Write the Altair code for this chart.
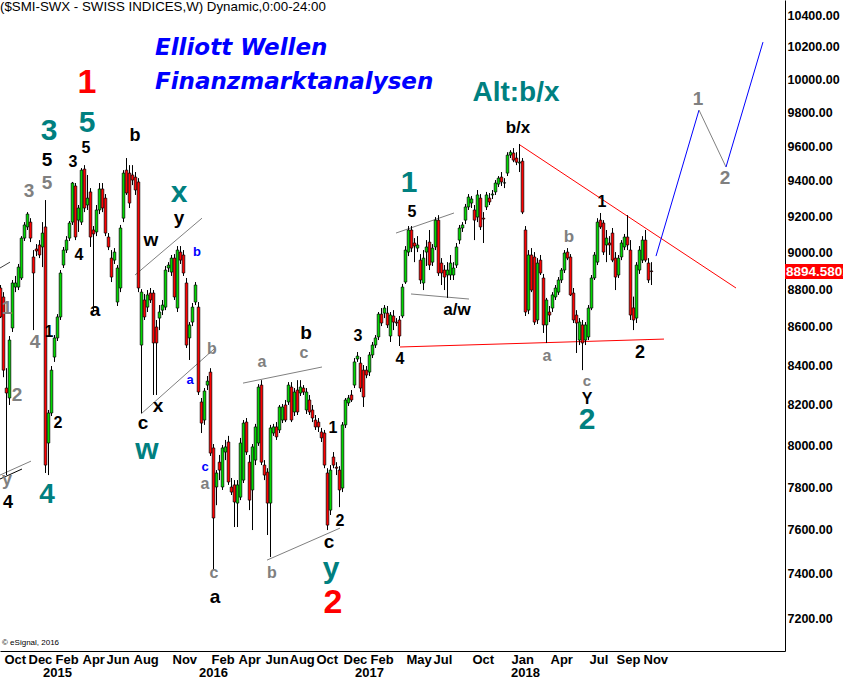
import altair as alt
import numpy as np
import pandas as pd

# Weekly SMI candles, one bar per week starting with the week of FIRST_WEEK
FIRST_WEEK = "2014-09-29"

OPEN = [8806, 8758, 8285, 8235, 8594, 8811, 8811, 8860, 9078, 9140,
        9167, 8974, 9018, 9040, 9029, 9140, 8012, 8160, 8443, 8542,
        8652, 8930, 9012, 9078, 9167, 9371, 9178, 9167, 9468, 9263,
        9337, 9123, 9112, 9235, 9354, 9302, 9084, 8968, 8957, 8731,
        8806, 9189, 9462, 9445, 9434, 9422, 9394, 8505, 8742, 8704,
        8779, 8779, 8599, 8646, 8688, 8704, 8914, 8892, 8968, 8699,
        9001, 8985, 8833, 8542, 8625, 8731, 8704, 8215, 8125, 8300,
        8366, 7988, 7800, 7919, 7800, 7968, 8017, 7800, 7810, 7724,
        7752, 7833, 8115, 7919, 7786, 7929, 8012, 8300, 7905, 7871,
        7724, 8061, 8091, 8076, 8125, 8200, 8215, 8290, 8165, 8275,
        8260, 8285, 8175, 8225, 8175, 8125, 8115, 8066, 8061, 7867,
        7691, 7944, 7895, 7881, 7795, 8101, 8210, 8250, 8300, 8433,
        8412, 8376, 8376, 8366, 8454, 8505, 8547, 8667, 8672, 8672,
        8552, 8657, 8625, 8636, 8657, 8838, 9001, 9123, 9051, 9023,
        8957, 8833, 9001, 9056, 8946, 9029, 9178, 8941, 8903, 8876,
        8876, 8876, 8930, 9067, 9134, 9178, 9252, 9274, 9235, 9195,
        9302, 9189, 9252, 9302, 9320, 9337, 9382, 9422, 9388, 9445,
        9549, 9561, 9532, 9503, 9514, 9123, 8688, 8985, 8974, 8636,
        8957, 8860, 8610, 8678, 8699, 8758, 8784, 8849, 8903, 9001,
        8974, 8779, 8662, 8531, 8610, 8531, 8547, 8699, 8860, 8946,
        9178, 9162, 9040, 9051, 9106, 8968, 8876, 8974, 9029, 9084,
        9012, 8700, 8646, 8903, 8957, 9067, 8941, 8898]

HIGH = [8822, 8784, 8386, 8552, 8849, 8871, 8936, 9089, 9167, 9223,
        9189, 9012, 9045, 9067, 9167, 9291, 8175, 8397, 8557, 8667,
        8903, 9029, 9089, 9173, 9394, 9388, 9263, 9474, 9491, 9434,
        9359, 9145, 9263, 9388, 9388, 9325, 9106, 9012, 9023, 8930,
        9151, 9462, 9532, 9491, 9491, 9451, 9416, 8800, 8774, 8795,
        8806, 8795, 8636, 8715, 8742, 8925, 8946, 8985, 8990, 9034,
        9034, 9012, 8860, 8625, 8726, 8838, 8731, 8235, 8285, 8346,
        8386, 8007, 7881, 7954, 8002, 8027, 8047, 7843, 7833, 7833,
        8037, 8125, 8135, 7954, 8007, 8106, 8305, 8325, 7929, 7890,
        8101, 8106, 8115, 8200, 8205, 8225, 8315, 8315, 8285, 8325,
        8325, 8300, 8285, 8250, 8200, 8150, 8135, 8086, 8076, 7890,
        7905, 7968, 7919, 7900, 8115, 8235, 8250, 8275, 8438, 8469,
        8443, 8402, 8397, 8469, 8521, 8557, 8678, 8699, 8715, 8710,
        8678, 8688, 8646, 8657, 8828, 9034, 9145, 9145, 9078, 9089,
        8990, 9012, 9067, 9123, 9045, 9195, 9206, 8968, 8930, 8946,
        8985, 8946, 9051, 9151, 9167, 9269, 9325, 9314, 9263, 9348,
        9325, 9223, 9337, 9331, 9348, 9405, 9428, 9451, 9416, 9566,
        9578, 9590, 9566, 9614, 9532, 9145, 9012, 9023, 9001, 8968,
        8985, 8882, 8753, 8710, 8784, 8822, 8865, 8914, 9012, 9023,
        8990, 8806, 8688, 8646, 8636, 8625, 8715, 8876, 9001, 9189,
        9218, 9178, 9123, 9089, 9134, 9001, 8985, 9067, 9101, 9206,
        9067, 8760, 8946, 9034, 9089, 9123, 8968, 8946]

LOW = [8646, 8340, 7857, 8200, 8573, 8784, 8795, 8849, 9062, 9123,
       9056, 8583, 8979, 8968, 8919, 7867, 7857, 8145, 8418, 8526,
       8636, 8914, 8996, 9062, 9151, 9067, 9112, 9151, 9223, 9235,
       9029, 8678, 9089, 9212, 9223, 9089, 9012, 8838, 8936, 8710,
       8784, 9167, 9320, 9246, 9376, 9320, 8784, 8160, 8636, 8678,
       8726, 8250, 8250, 8583, 8662, 8688, 8892, 8871, 8742, 8678,
       8936, 8871, 8490, 8428, 8604, 8715, 8250, 8061, 8101, 8275,
       7949, 7415, 7714, 7833, 7786, 7929, 7810, 7762, 7612, 7612,
       7738, 7819, 7954, 7691, 7598, 7905, 7998, 7905, 7833, 7575,
       7474, 8047, 8027, 8061, 8110, 8115, 8200, 8115, 8145, 8150,
       8245, 8250, 8155, 8150, 8115, 8076, 8066, 8017, 7890, 7598,
       7668, 7890, 7857, 7705, 7776, 8086, 8195, 8215, 8285, 8418,
       8265, 8190, 8335, 8346, 8438, 8490, 8531, 8604, 8646, 8594,
       8521, 8583, 8604, 8500, 8646, 8828, 8979, 9001, 8946, 9001,
       8828, 8795, 8925, 8903, 8925, 9012, 8871, 8822, 8795, 8753,
       8849, 8849, 8914, 9045, 9112, 9156, 9235, 9246, 9067, 9167,
       9123, 9051, 9235, 9263, 9297, 9320, 9365, 9371, 9359, 9428,
       9532, 9508, 9491, 9451, 9212, 8657, 8667, 8784, 8610, 8615,
       8876, 8568, 8516, 8625, 8678, 8742, 8769, 8833, 8887, 8957,
       8763, 8620, 8464, 8505, 8376, 8505, 8531, 8688, 8849, 8930,
       9129, 8985, 8946, 8985, 8946, 8795, 8860, 8957, 9012, 9012,
       8636, 8583, 8620, 8882, 8941, 8946, 8833, 8822]

CLOSE = [8652, 8376, 8260, 8531, 8833, 8833, 8919, 9078, 9151, 9212,
         9078, 8887, 9007, 8985, 9106, 7905, 8160, 8376, 8542, 8652,
         8887, 9012, 9067, 9162, 9388, 9084, 9246, 9462, 9246, 9302,
         9084, 9101, 9235, 9354, 9246, 9106, 9029, 8865, 9001, 8914,
         9134, 9445, 9331, 9274, 9405, 9348, 8806, 8784, 8652, 8769,
         8742, 8516, 8516, 8678, 8715, 8903, 8930, 8968, 8758, 9012,
         8957, 8887, 8505, 8610, 8704, 8822, 8265, 8110, 8270, 8320,
         7963, 7654, 7867, 7881, 7988, 7993, 7824, 7776, 7729, 7810,
         8012, 8110, 7968, 7738, 7993, 8091, 8290, 7919, 7857, 7724,
         8086, 8091, 8042, 8190, 8190, 8125, 8300, 8125, 8265, 8165,
         8290, 8265, 8265, 8165, 8135, 8091, 8091, 8037, 7905, 7621,
         7881, 7905, 7890, 7786, 8101, 8225, 8235, 8225, 8418, 8448,
         8285, 8240, 8351, 8454, 8505, 8542, 8667, 8620, 8699, 8610,
         8662, 8625, 8620, 8552, 8811, 9012, 9123, 9023, 9034, 9040,
         8849, 8968, 9029, 8930, 9023, 9178, 8887, 8887, 8865, 8903,
         8941, 8914, 9029, 9134, 9151, 9252, 9308, 9297, 9178, 9320,
         9140, 9184, 9320, 9280, 9325, 9388, 9416, 9394, 9389, 9549,
         9566, 9520, 9508, 9508, 9223, 8678, 8985, 8795, 8625, 8941,
         8887, 8610, 8742, 8662, 8769, 8806, 8849, 8903, 8996, 8968,
         8769, 8636, 8620, 8625, 8516, 8610, 8699, 8860, 8985, 9167,
         9140, 9001, 9078, 9040, 8957, 8865, 8968, 9051, 9084, 9040,
         8662, 8636, 8930, 9012, 9067, 8957, 8849, 8894.58]

LAST_PRICE_TEXT = "8894.5801"

# Axis labelling
MONTH_TICKS = ["2014-10-06", "2014-12-01", "2015-02-02", "2015-04-06", "2015-06-01",
               "2015-08-03", "2015-11-02", "2016-02-01", "2016-04-04", "2016-06-06",
               "2016-08-01", "2016-10-03", "2016-12-05", "2017-02-06", "2017-05-01",
               "2017-07-03", "2017-10-02", "2018-01-01", "2018-04-02", "2018-07-02",
               "2018-09-03", "2018-11-05"]
YEAR_TEXT = ["2015", "2016", "2017", "2018"]
YEAR_FIRST_BAR = ["2015-01-05", "2016-01-04", "2017-01-02", "2018-01-01"]
PRICE_TICKS = list(range(7200, 10401, 200))

# Elliott wave counts: (week position, price, text, colour, font size)
TEAL, GRAY, BLUE, RED, BLACK = "#008080", "#808080", "#0000FF", "#FF0000", "#000000"
WAVE_LABELS = [
    (29.0, 9980, "1", RED, 34), (29.0, 9737, "5", TEAL, 30), (16.33, 9690, "3", TEAL, 30),
    (15.67, 9520, "5", BLACK, 19), (15.67, 9388, "5", GRAY, 19), (9.67, 9343, "3", GRAY, 19),
    (24.33, 9508, "3", BLACK, 16), (28.67, 9590, "5", BLACK, 16), (45.0, 9660, "b", BLACK, 18),
    (59.67, 9331, "x", TEAL, 30), (59.67, 9189, "y", BLACK, 19), (50.33, 9067, "w", BLACK, 19),
    (65.67, 9001, "b", BLUE, 13), (26.33, 8985, "4", BLACK, 16), (31.67, 8688, "a", BLACK, 19),
    (2.33, 8699, "1", GRAY, 19), (11.67, 8521, "4", GRAY, 19), (5.67, 8250, "2", GRAY, 19),
    (16.33, 8573, "1", BLACK, 16), (19.33, 8110, "2", BLACK, 16), (2.33, 7833, "y", GRAY, 18),
    (2.67, 7724, "4", BLACK, 18), (15.67, 7762, "4", TEAL, 28), (47.67, 8110, "c", BLACK, 19),
    (49.0, 7978, "w", TEAL, 30), (52.67, 8195, "x", BLACK, 19), (63.33, 8325, "a", BLUE, 13),
    (70.67, 8484, "b", GRAY, 16), (68.33, 7895, "c", BLUE, 13), (68.33, 7814, "a", GRAY, 16),
    (71.33, 7402, "c", GRAY, 16), (71.67, 7294, "a", BLACK, 19), (90.67, 7402, "b", GRAY, 16),
    (87.33, 8418, "a", GRAY, 16), (101.33, 8464, "c", GRAY, 16), (102.0, 8568, "b", BLACK, 19),
    (111.0, 8086, "1", BLACK, 16), (113.33, 7639, "2", BLACK, 16), (109.67, 7543, "c", BLACK, 19),
    (110.33, 7420, "y", TEAL, 30), (111.0, 7268, "2", RED, 34), (119.33, 8552, "3", BLACK, 16),
    (133.33, 8433, "4", BLACK, 16), (137.33, 9224, "5", BLACK, 16), (136.33, 9388, "1", TEAL, 30),
    (152.33, 8688, "a/w", BLACK, 17), (172.67, 9708, "b/x", BLACK, 17),
    (172.0, 9917, "Alt:b/x", TEAL, 28), (200.67, 9280, "1", BLACK, 16),
    (189.67, 9084, "b", GRAY, 17), (182.33, 8448, "a", GRAY, 16), (195.67, 8322, "c", GRAY, 15),
    (195.67, 8232, "Y", BLACK, 16), (195.67, 8125, "2", TEAL, 30), (213.33, 8464, "2", BLACK, 18),
    (232.67, 9881, "1", GRAY, 19), (241.67, 9416, "2", GRAY, 19),
]

# Trend lines, channels and the projected path: (week, price, week, price, colour)
SEGMENTS = [
    (0, 8914, 3.33, 8946, "#404040"),
    (0, 7857, 10.33, 7924, GRAY),
    (0, 7838, 7.33, 7886, BLACK),
    (45, 8876, 67.33, 9189, GRAY),
    (47, 8155, 71.67, 8489, GRAY),
    (81, 8310, 107.33, 8392, GRAY),
    (89, 7460, 113.33, 7607, GRAY),
    (132, 9106, 151.33, 9218, GRAY),
    (137, 8774, 156.33, 8747, GRAY),
    (173.33, 9608, 245.33, 8806, RED),
    (133.33, 8495, 221.33, 8536, RED),
    (218.67, 8979, 233, 9815, BLUE),
    (233, 9815, 242, 9480, GRAY),
    (242, 9480, 254.33, 10230, BLUE),
]

HEADINGS = [(51.67, 10193, "Elliott Wellen"), (51.67, 9984, "Finanzmarktanalysen")]
TITLE = "($SMI-SWX - SWISS INDICES,W) Dynamic,0:00-24:00"
COPYRIGHT = "\u00a9 eSignal, 2016"

START = pd.Timestamp(FIRST_WEEK, tz="UTC")


def week_ms(w):
    return int((START + pd.Timedelta(days=7 * w)).timestamp() * 1000)


def date_ms(s):
    return int(pd.Timestamp(s, tz="UTC").timestamp() * 1000)


FONT = "Liberation Sans"
x_scale = alt.Scale(type="utc", domain=[date_ms("2014-09-29"), date_ms("2019-10-04 16:00")],
                    padding=0)
y_scale = alt.Scale(type="log", domain=[7058, 10496], nice=False, padding=0)

x_axis = alt.Axis(values=[date_ms(d) for d in MONTH_TICKS],
                  labelExpr="utcFormat(datum.value, '%b')",
                  labelAlign="left", labelBaseline="top", labelPadding=2, labelOffset=1,
                  labelFont=FONT, labelFontWeight="bold", labelFontSize=13,
                  labelColor="black", labelOverlap=False, labelFlush=False,
                  ticks=False, grid=False, domainColor="black", domainWidth=1, title=None)
y_axis = alt.Axis(orient="right", values=PRICE_TICKS, format=".2f",
                  labelFont=FONT, labelFontWeight="bold", labelFontSize=12.5,
                  labelColor="black", labelPadding=2, labelOverlap=False,
                  ticks=False, grid=False, domainColor="black", domainWidth=1, title=None)


def X(field):
    return alt.X(field, type="temporal", scale=x_scale, axis=x_axis)


def Y(field):
    return alt.Y(field, type="quantitative", scale=y_scale, axis=y_axis)


assert len(OPEN) == len(HIGH) == len(LOW) == len(CLOSE)
candles = pd.DataFrame({
    "t": [week_ms(i) for i in range(len(OPEN))],
    "open": OPEN, "high": HIGH, "low": LOW, "close": CLOSE,
})
candles["top"] = candles[["open", "close"]].max(axis=1)
candles["bot"] = candles[["open", "close"]].min(axis=1)
candles["fill"] = np.where(candles["close"] >= candles["open"], "#00D800", "#FF0000")

wicks = alt.Chart(candles).mark_rule(color="black", strokeWidth=1, xOffset=0.5).encode(
    x=X("t"), y=Y("low"), y2="high")
bodies = alt.Chart(candles).mark_bar(width=2.6, stroke="black", strokeWidth=0.7,
                                     xOffset=0.5).encode(
    x=X("t"), y=Y("bot"), y2="top", color=alt.Color("fill:N", scale=None))

segs = pd.DataFrame(SEGMENTS, columns=["w1", "p1", "w2", "p2", "color"])
segs["t1"] = [week_ms(w) for w in segs["w1"]]
segs["t2"] = [week_ms(w) for w in segs["w2"]]
lines = alt.Chart(segs).mark_rule(strokeWidth=1).encode(
    x=X("t1"), x2="t2", y=Y("p1"), y2="p2", color=alt.Color("color:N", scale=None))

labels = pd.DataFrame(WAVE_LABELS, columns=["w", "p", "text", "color", "size"])
labels["t"] = [week_ms(w) for w in labels["w"]]
wave_text = alt.Chart(labels).mark_text(font=FONT, fontWeight="bold", align="center",
                                        baseline="middle").encode(
    x=X("t"), y=Y("p"), text="text:N",
    color=alt.Color("color:N", scale=None), size=alt.Size("size:Q", scale=None))

heads = pd.DataFrame(HEADINGS, columns=["w", "p", "text"])
heads["t"] = [week_ms(w) for w in heads["w"]]
heading_text = alt.Chart(heads).mark_text(font="DejaVu Sans", fontWeight="bold",
                                          fontStyle="italic", fontSize=23, align="left",
                                          baseline="middle", color=BLUE).encode(
    x=X("t"), y=Y("p"), text="text:N")

years = pd.DataFrame({"t": [date_ms(d) for d in YEAR_FIRST_BAR], "year": YEAR_TEXT})
year_text = alt.Chart(years).mark_text(font=FONT, fontWeight="bold", fontSize=13,
                                       align="left", baseline="top", dx=1).encode(
    x=X("t"), y=alt.value(667), text="year:N")

last = pd.DataFrame({"p": [CLOSE[-1]], "text": [LAST_PRICE_TEXT]})
tag_box = alt.Chart(last).mark_rule(color=RED, strokeWidth=15, strokeCap="butt").encode(
    x=alt.value(785), x2=alt.value(843), y=Y("p"))
tag_text = alt.Chart(last).mark_text(font=FONT, fontWeight="bold", fontSize=13.5,
                                     align="left", baseline="middle", color="white").encode(
    x=alt.value(786), y=Y("p"), text="text:N")

caption = pd.DataFrame({"text": [TITLE]})
title_text = alt.Chart(caption).mark_text(font=FONT, fontSize=13.3, align="left",
                                          baseline="top", color="black").encode(
    x=alt.value(0), y=alt.value(0), text="text:N")
credit = pd.DataFrame({"text": [COPYRIGHT]})
credit_text = alt.Chart(credit).mark_text(font=FONT, fontSize=8, align="left",
                                          baseline="middle", color="black").encode(
    x=alt.value(2), y=alt.value(643), text="text:N")

chart = alt.layer(
    lines, wicks, bodies, wave_text, heading_text, year_text,
    tag_box, tag_text, title_text, credit_text,
).properties(
    width=785, height=651,
    autosize=alt.AutoSizeParams(type="none"),
    padding={"left": 0, "top": 0, "right": 58, "bottom": 33},
    background="white",
).configure_view(stroke=None)

chart.save("out.html", embed_options={"renderer": "svg", "actions": False})
